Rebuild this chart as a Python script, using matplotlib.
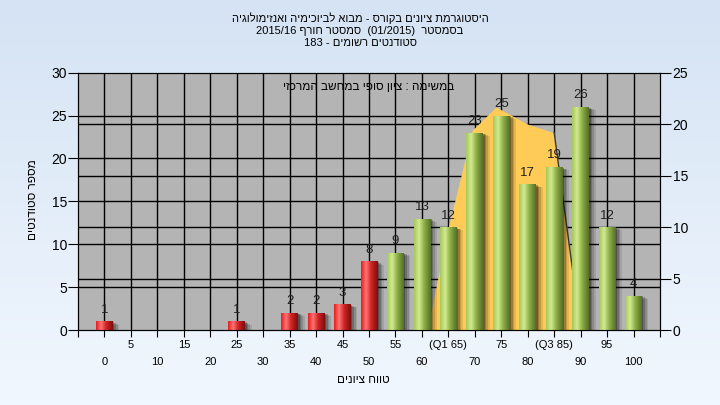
import re
import matplotlib
matplotlib.use("Agg")
import matplotlib.pyplot as plt
import numpy as np
from matplotlib.colors import LinearSegmentedColormap
from matplotlib.patches import Rectangle

plt.rcParams['font.family'] = ['Liberation Sans', 'DejaVu Sans']

# נתונים
grades = list(range(0, 101, 5))
counts = [1, 0, 0, 0, 0, 1, 0, 2, 2, 3, 8, 9, 13, 12, 23, 25, 17, 19, 26, 12, 4]
tick_labels = [str(g) for g in grades]
tick_labels[13] = '(Q1 65)'
tick_labels[17] = '(Q3 85)'
pass_grade = 55
# שטח רבעונים (נקרא מהתמונה)
area_grades = [61, 65, 69.5, 74, 80, 85, 90]
area_vals = [0, 12, 23.3, 26, 24, 23, 0]

title_lines = ['היסטוגרמת ציונים בקורס - מבוא לביוכימיה ואנזימולוגיה',
               'בסמסטר  (01/2015)  סמסטר חורף 2015/16',
               'סטודנטים רשומים - 183']
note = 'במשימה : ציון סופי במחשב המרכזי'
xlab = 'טווח ציונים'
ylab = 'מספר סטודנטים'

MIRROR = str.maketrans('()', ')(')


def rtl(s):
    """סדר תצוגה פשוט לעברית"""
    r = s[::-1].translate(MIRROR)
    return re.sub(r'[0-9A-Za-z]+(?:[/.:][0-9A-Za-z]+)*', lambda m: m.group(0)[::-1], r)


fig = plt.figure(figsize=(7.2, 4.05), dpi=100)

# רקע מדורג
bg = fig.add_axes([0, 0, 1, 1])
bg_cmap = LinearSegmentedColormap.from_list('bg', ['#d5e3f4', '#f1f7fe'])
bg.imshow(np.linspace(0, 1, 100).reshape(-1, 1), cmap=bg_cmap, aspect='auto', extent=[0, 1, 0, 1])
bg.axis('off')

ax = fig.add_axes([78 / 720, 1 - 330 / 405, 582 / 720, 257.3 / 405])
ax.set_facecolor('#b4b4b4')
idx = np.arange(len(grades))

# קווי רשת
for i in idx:
    ax.axvline(i, color='black', lw=1, zorder=1)
for v in range(5, 30, 5):
    ax.axhline(v, color='black', lw=1, zorder=1)
for v in range(5, 25, 5):
    ax.axhline(v * 30 / 25, color='black', lw=1, zorder=1)

# שטח כתום
ax_x = np.array(area_grades) / 5
ax.fill_between(ax_x, 0, area_vals, color='#ffcb57', lw=0, zorder=2)
ax.plot(ax_x[-2:], area_vals[-2:], color='#383838', lw=1, zorder=2.1)

green = LinearSegmentedColormap.from_list('g', [(0, '#a6c95a'), (0.3, '#d2ea90'), (0.6, '#8fb048'), (1, '#556f28')])
red = LinearSegmentedColormap.from_list('r', [(0, '#e41e1e'), (0.3, '#ff7474'), (0.6, '#d02424'), (1, '#7e0e0e')])
grad = np.linspace(0, 1, 64).reshape(1, -1)
w = 0.63
for i, (g, c) in enumerate(zip(grades, counts)):
    if c == 0:
        continue
    # צל
    for k, a in [(0.06, 0.25), (0.12, 0.2), (0.18, 0.15), (0.25, 0.1)]:
        ax.add_patch(Rectangle((i - w / 2 + k, -k * 1.5), w, c, color='black', alpha=a, lw=0, zorder=2.5))
    bar = Rectangle((i - w / 2, 0), w, c, facecolor='none', lw=0, zorder=3)
    ax.add_patch(bar)
    im = ax.imshow(grad, cmap=red if g < pass_grade else green, aspect='auto',
                   extent=[i - w / 2, i + w / 2, 0, c], zorder=3)
    im.set_clip_path(bar)
    ax.text(i, c + 1.35, str(c), ha='center', va='center', fontsize=9.5, color='#202020', zorder=4)

ax.set_xlim(-1, 21)
ax.set_ylim(0, 30)
ax.set_yticks(range(0, 31, 5))
ax.tick_params(axis='y', labelsize=10, length=7, pad=1)
ax.set_xticks(range(-1, 22))
ax.set_xticklabels([])
ax.tick_params(axis='x', length=5)
for sp in ax.spines.values():
    sp.set_color('black')

xt = ax.get_xaxis_transform()
for i, lab in enumerate(tick_labels):
    y = -0.058 if i % 2 else -0.124
    ax.text(i, y, lab, transform=xt, ha='center', va='center', fontsize=8)

ax2 = ax.twinx()
ax2.set_ylim(0, 25)
ax2.set_yticks(range(0, 26, 5))
ax2.tick_params(axis='y', labelsize=10, length=8, pad=1)
ax2.patch.set_visible(False)

ax.text(0.5, 0.944, rtl(note), transform=ax.transAxes, ha='center', va='center', fontsize=8.5, zorder=5)

for k, line in enumerate(title_lines):
    fig.text(0.5, 1 - (18 + 12.5 * k) / 405, rtl(line), ha='center', va='center', fontsize=8)
fig.text(0.505, 1 - 380 / 405, rtl(xlab), ha='center', va='center', fontsize=8.5)
fig.text(33 / 720, 1 - 200 / 405, rtl(ylab), ha='center', va='center', rotation=90, fontsize=8.5)

fig.savefig('out.png', dpi=100)
